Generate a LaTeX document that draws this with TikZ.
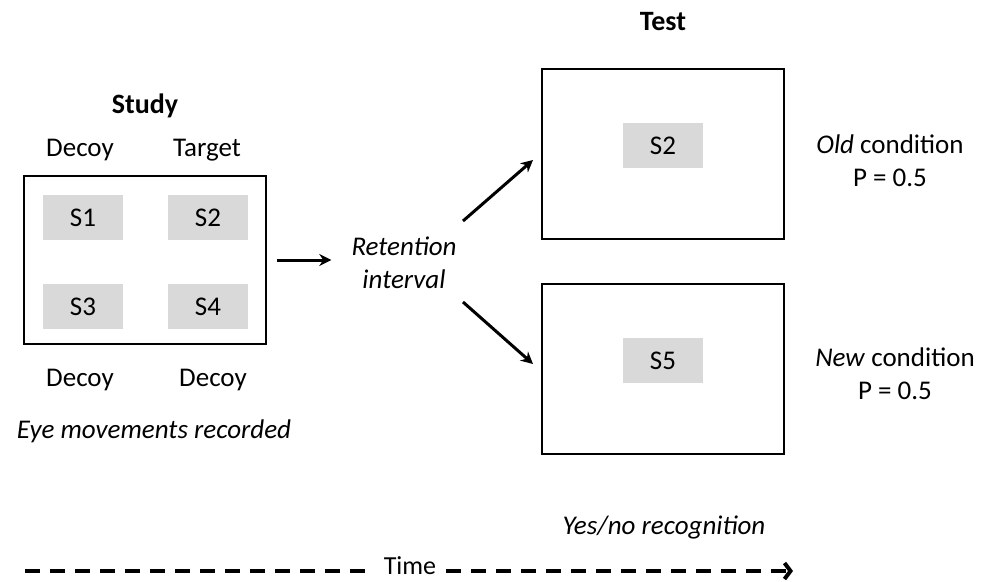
\documentclass[tikz,border=0pt]{standalone}
\usepackage{fontspec}
\setmainfont{Carlito}
\usetikzlibrary{arrows.meta}
\definecolor{stimgray}{HTML}{D9D9D9}
\begin{document}
\begin{tikzpicture}[x=1pt,y=-1pt,
  txt/.style={font=\fontsize{27}{33}\selectfont, align=center, inner sep=0pt},
  title/.style={font=\fontsize{28}{33}\selectfont\bfseries, inner sep=0pt},
  frame/.style={draw, line width=2.8pt, minimum width=242pt, inner sep=0pt},
  stim/.style={fill=stimgray, minimum width=80pt, minimum height=45pt, inner sep=0pt,
               font=\fontsize{27}{33}\selectfont},
  conn/.style={-{Stealth[length=12pt,width=12pt]}, line width=3pt},
  timeline/.style={line width=4pt, dash pattern=on 15pt off 10pt}]
\useasboundingbox (0,0) rectangle (987,581);

% study display
\node[title] (study) at (145,106) {Study};
\node[frame, minimum height=168pt] (sbox) at (145,260) {};
\node[stim] (s1) at (83,217.5) {S1};
\node[stim] (s2) at (208,217.5) {S2};
\node[stim] (s3) at (83,306.5) {S3};
\node[stim] (s4) at (208,306.5) {S4};
\node[txt] (d1) at (80,150) {Decoy};
\node[txt] (tg) at (207,150) {Target};
\node[txt] (d3) at (80,380) {Decoy};
\node[txt] (d4) at (213,380) {Decoy};
\node[txt] (eye) at (154,431) {\itshape Eye movements recorded};

% retention interval
\node[txt] (ret) at (404,263) {\itshape Retention\\\itshape interval};
\draw[conn] ([xshift=10pt]sbox.east) -- ([xshift=-20pt]ret.west |- sbox.east);

% test displays
\node[title] (test) at (663,22) {Test};
\node[frame, minimum height=170pt] (tbox1) at (663,154) {};
\node[frame, minimum height=170pt] (tbox2) at (663,369) {};
\node[stim] (t2) at (663,145.5) {S2};
\node[stim] (t5) at (663,360.5) {S5};
\node[txt] (old) at (890,161) {\textit{Old} condition\\P = 0.5};
\node[txt] (new) at (895,374) {\textit{New} condition\\P = 0.5};
\node[txt] (yn) at (664,527) {\itshape Yes/no recognition};

\coordinate (upfrom) at (463,221);
\coordinate (upto) at (533,160);
\coordinate (dnfrom) at (463,302);
\coordinate (dnto) at (533,364);
\draw[conn] (upfrom) -- (upto);
\draw[conn] (dnfrom) -- (dnto);

% time axis
\node[font=\fontsize{26}{30}\selectfont, inner sep=0pt, anchor=base] (time) at (410,574) {Time};
\coordinate (tstart) at (25,571);
\coordinate (tend) at (793,571);
\draw[timeline] (tstart) -- ([xshift=-10pt]time.west |- tstart);
\draw[timeline, -{Straight Barb[length=6pt,width=16pt]}] ([xshift=10pt]time.east |- tstart) -- (tend);
\end{tikzpicture}
\end{document}
